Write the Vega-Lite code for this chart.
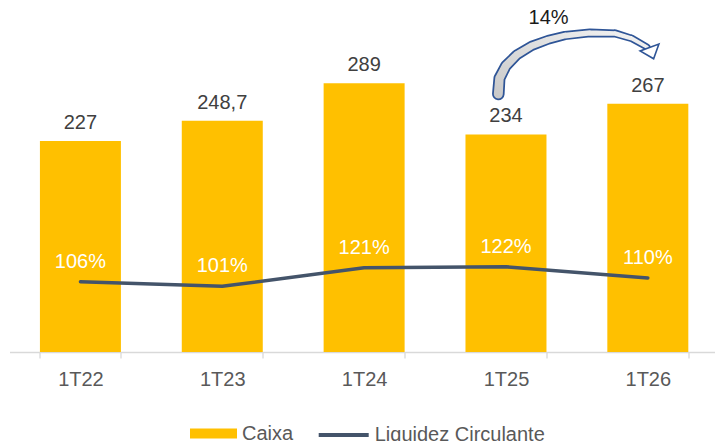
{
  "$schema": "https://vega.github.io/schema/vega-lite/v6.json",
  "width": 706,
  "height": 352,
  "autosize": {"type": "none"},
  "padding": {"left": 9.5, "top": 0, "right": 0, "bottom": 89},
  "background": "white",
  "config": {
    "view": {"stroke": null},
    "font": "Liberation Sans",
    "locale": {"number": {"decimal": ",", "thousands": ".", "grouping": [3], "currency": ["R$", ""]}},
    "axis": {"grid": false}
  },
  "datasets": {
    "principal": [
      {"periodo": "1T22", "caixa": 227, "liquidez": 1.06},
      {"periodo": "1T23", "caixa": 248.7, "liquidez": 1.01},
      {"periodo": "1T24", "caixa": 289, "liquidez": 1.21},
      {"periodo": "1T25", "caixa": 234, "liquidez": 1.22},
      {"periodo": "1T26", "caixa": 267, "liquidez": 1.10}
    ],
    "seta": [
      {"ordem": 1, "x": 2.946, "y": 277.4},
      {"ordem": 2, "x": 2.954, "y": 294.3},
      {"ordem": 3, "x": 2.999, "y": 307.7},
      {"ordem": 4, "x": 3.076, "y": 319.4},
      {"ordem": 5, "x": 3.181, "y": 329.2},
      {"ordem": 6, "x": 3.298, "y": 335.8},
      {"ordem": 7, "x": 3.416, "y": 340.3},
      {"ordem": 8, "x": 3.592, "y": 343.2},
      {"ordem": 9, "x": 3.769, "y": 342.5},
      {"ordem": 10, "x": 3.888, "y": 337.1},
      {"ordem": 11, "x": 3.994, "y": 328.0}
    ],
    "ponta": [
      {"x": 4.012, "y": 327.4}
    ],
    "nota": [
      {"x": 3.300, "y": 352.7, "rotulo": "14%"}
    ]
  },
  "layer": [
    {
      "data": {"name": "principal"},
      "encoding": {
        "x": {
          "field": "periodo",
          "type": "nominal",
          "sort": null,
          "scale": {"type": "band", "paddingInner": 0.429, "paddingOuter": 0.2145, "range": [0, 709.25]},
          "axis": {
            "title": null,
            "labelAngle": 0,
            "labelFontSize": 20,
            "labelColor": "#595959",
            "labelPadding": 11,
            "tickSize": 6,
            "tickColor": "#D9D9D9",
            "tickWidth": 1.3,
            "domainColor": "#D9D9D9",
            "domainWidth": 1.3,
            "tickBand": "extent"
          }
        }
      },
      "layer": [
        {
          "encoding": {
            "y": {"field": "caixa", "type": "quantitative", "scale": {"domain": [0, 378.5], "nice": false}, "axis": null}
          },
          "layer": [
            {
              "mark": {"type": "bar"},
              "encoding": {
                "fill": {
                  "datum": "Caixa",
                  "type": "nominal",
                  "scale": {"range": ["#FFC000"]},
                  "legend": {
                    "orient": "none",
                    "legendX": 180.5,
                    "legendY": 410,
                    "title": null,
                    "padding": 0,
                    "symbolType": "M-1,-0.213H1V0.213H-1Z",
                    "symbolSize": 2209,
                    "symbolStrokeWidth": 0,
                    "symbolOpacity": 1,
                    "labelFontSize": 20,
                    "labelColor": "#595959",
                    "labelOffset": 5,
                    "labelLimit": 400
                  }
                }
              }
            },
            {
              "mark": {"type": "text", "baseline": "alphabetic", "dy": -12, "fontSize": 20, "fill": "#404040"},
              "encoding": {"text": {"field": "caixa", "type": "quantitative"}}
            }
          ]
        },
        {
          "encoding": {
            "y": {"field": "liquidez", "type": "quantitative", "scale": {"domain": [0.304, 4.089], "nice": false, "zero": false}, "axis": null}
          },
          "layer": [
            {
              "mark": {"type": "line", "strokeWidth": 3.5, "strokeCap": "round", "strokeJoin": "round"},
              "encoding": {
                "stroke": {
                  "datum": "Liquidez Circulante",
                  "type": "nominal",
                  "scale": {"range": ["#44546A"]},
                  "legend": {
                    "orient": "none",
                    "legendX": 307.2,
                    "legendY": 408,
                    "title": null,
                    "padding": 0,
                    "symbolType": "stroke",
                    "symbolSize": 2500,
                    "symbolStrokeWidth": 4,
                    "labelFontSize": 20,
                    "labelColor": "#595959",
                    "labelOffset": 4,
                    "labelLimit": 400
                  }
                }
              }
            },
            {
              "mark": {"type": "text", "baseline": "alphabetic", "dy": -14, "fontSize": 20, "fill": "#FFFFFF"},
              "encoding": {"text": {"field": "liquidez", "type": "quantitative", "format": ".0%"}}
            }
          ]
        }
      ],
      "resolve": {"scale": {"y": "independent"}}
    },
    {
      "encoding": {
        "x": {"field": "x", "type": "quantitative", "scale": {"domain": [-0.5, 4.5], "range": [0, 709.25], "nice": false, "zero": false}, "axis": null},
        "y": {"field": "y", "type": "quantitative", "scale": {"domain": [0, 378.5], "nice": false, "zero": false}, "axis": null}
      },
      "layer": [
        {
          "data": {"name": "seta"},
          "mark": {"type": "trail", "fill": "#2F5597", "color": "#2F5597"},
          "encoding": {
            "order": {"field": "ordem", "type": "quantitative"},
            "size": {"field": "ordem", "type": "quantitative", "scale": {"domain": [1, 11], "range": [12.5, 7]}, "legend": null}
          }
        },
        {
          "data": {"name": "seta"},
          "mark": {
            "type": "trail",
            "fill": {
              "gradient": "linear",
              "x1": 0, "y1": 1, "x2": 1, "y2": 0,
              "stops": [{"offset": 0, "color": "#C8C8C8"}, {"offset": 1, "color": "#F4F4F4"}]
            }
          },
          "encoding": {
            "order": {"field": "ordem", "type": "quantitative"},
            "size": {"field": "ordem", "type": "quantitative", "scale": {"domain": [1, 11], "range": [9, 3.6]}, "legend": null}
          }
        },
        {
          "data": {"name": "ponta"},
          "mark": {
            "type": "point",
            "shape": "M0,-1L1.2,0L0,1Z",
            "size": 400,
            "angle": 70,
            "filled": true,
            "fill": "#FFFFFF",
            "stroke": "#2F5597",
            "strokeWidth": 1.6,
            "opacity": 1
          }
        },
        {
          "data": {"name": "nota"},
          "mark": {"type": "text", "baseline": "alphabetic", "fontSize": 20, "fill": "#1A1A1A"},
          "encoding": {"text": {"field": "rotulo", "type": "nominal"}}
        }
      ],
      "resolve": {"scale": {"size": "independent"}}
    }
  ],
  "resolve": {"scale": {"x": "independent", "y": "independent"}}
}
